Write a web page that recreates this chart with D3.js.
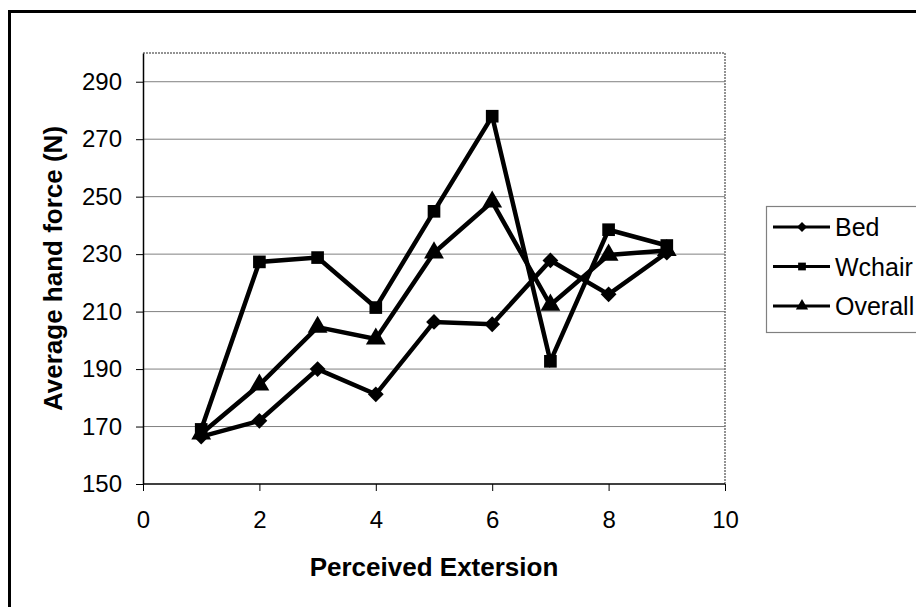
<!DOCTYPE html>
<html><head><meta charset="utf-8">
<script src="https://cdn.jsdelivr.net/npm/d3@7"></script>
<style>body{margin:0;background:#fff}svg{display:block}text{font-family:"Liberation Sans",Arial,sans-serif;fill:#000}</style>
</head><body>
<svg id="c" width="916" height="607"></svg>
<script>
const xValues = [1,2,3,4,5,6,7,8,9];
const bed     = [166.5,172,190,181.2,206.4,205.6,227.8,216,230.5];
const wchair  = [169,227.3,228.8,211.4,244.9,278,192.7,238.5,233];
const overall = [167.5,184.5,204.6,200.5,230.5,248.2,212.3,229.7,231.3];
const seriesNames = ["Bed","Wchair","Overall"];
const xTicks = [0,2,4,6,8,10];
const yTicks = [150,170,190,210,230,250,270,290];
const xTitle = "Perceived Extersion";
const yTitle = "Average hand force (N)";

const svg = d3.select("#c");
const L=143,R=725,T=53,B=484;
const x = d3.scaleLinear().domain([0,10]).range([L,R]);
const y = d3.scaleLinear().domain([150,300]).range([B,T]);

// outer border
svg.append("rect").attr("x",9.5).attr("y",11.5).attr("width",1000).attr("height",700)
  .attr("fill","none").attr("stroke","#000").attr("stroke-width",3);

// gridlines
svg.append("g").selectAll("line").data(yTicks.filter(d=>d>150)).join("line")
  .attr("x1",L).attr("x2",R).attr("y1",d=>y(d)).attr("y2",d=>y(d))
  .attr("stroke","#808080").attr("stroke-width",1);
// plot frame top/right
svg.append("path").attr("d",`M${L},${T}H${R}V${B}`).attr("fill","none")
  .attr("stroke","#707070").attr("stroke-width",1.5).attr("stroke-dasharray","2,1");

// axes
const fs = 24;
const gx = svg.append("g").attr("transform",`translate(0,${B})`)
  .call(d3.axisBottom(x).tickValues(xTicks).tickSize(7).tickSizeOuter(0).tickPadding(20));
const gy = svg.append("g").attr("transform",`translate(${L},0)`)
  .call(d3.axisLeft(y).tickValues(yTicks).tickSize(7).tickSizeOuter(0).tickPadding(14));
[gx,gy].forEach(g=>{
  g.select(".domain").attr("stroke","#000").attr("stroke-width",1.5);
  g.selectAll(".tick line").attr("stroke","#000").attr("stroke-width",1);
  g.selectAll(".tick text").attr("font-size",fs).attr("font-family","Liberation Sans, Arial, sans-serif").attr("fill","#000");
});
gx.select(".domain").attr("d",`M${L},0H${R}`);

// titles
svg.append("text").attr("x",(L+R)/2).attr("y",576).attr("text-anchor","middle")
  .attr("font-size",26).attr("font-weight","bold").text(xTitle);
svg.append("text").attr("transform",`translate(62,${(T+B)/2}) rotate(-90)`).attr("text-anchor","middle")
  .attr("font-size",26).attr("font-weight","bold").text(yTitle);

// series
const data = [bed,wchair,overall];
const shapes = [d3.symbolSquare, d3.symbolSquare, d3.symbolTriangle];
const rot = [45,0,0];
const sizes = [125,160,170];
const line = d3.line().x((d,i)=>x(xValues[i])).y(d=>y(d));
data.forEach((vals,k)=>{
  svg.append("path").datum(vals).attr("d",line).attr("fill","none")
    .attr("stroke","#000").attr("stroke-width",4.5).attr("stroke-linejoin","miter");
});
data.forEach((vals,k)=>{
  svg.append("g").selectAll("path").data(vals).join("path")
    .attr("transform",(d,i)=>`translate(${x(xValues[i])},${y(d)}) rotate(${rot[k]})`)
    .attr("d",d3.symbol().type(shapes[k]).size(sizes[k])).attr("fill","#000");
});

// legend
svg.append("rect").attr("x",766.5).attr("y",206.5).attr("width",200).attr("height",126)
  .attr("fill","#fff").attr("stroke","#808080").attr("stroke-width",1.2);
const lsizes = [50,60,65];
seriesNames.forEach((n,k)=>{
  const cy = 227 + k*39.5;
  svg.append("line").attr("x1",773).attr("x2",830).attr("y1",cy).attr("y2",cy)
    .attr("stroke","#000").attr("stroke-width",3);
  svg.append("path").attr("transform",`translate(802,${cy}) rotate(${rot[k]})`)
    .attr("d",d3.symbol().type(shapes[k]).size(lsizes[k])).attr("fill","#000");
  svg.append("text").attr("x",835).attr("y",cy+9).attr("font-size",25).text(n);
});
</script>
</body></html>
